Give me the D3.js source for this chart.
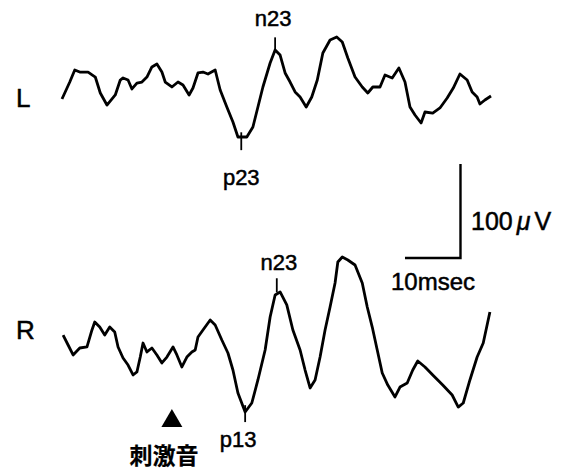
<!DOCTYPE html>
<html>
<head>
<meta charset="utf-8">
<script src="https://cdn.jsdelivr.net/npm/d3@7"></script>
<style>
  body { margin: 0; background: #fff; }
  svg { display: block; }
  text { font-family: "Liberation Sans", Arial, sans-serif; fill: #000; stroke: #000; stroke-width: 0.5px; }
</style>
</head>
<body>
<svg id="chart" width="563" height="471"></svg>
<script>
// time in msec, amplitude in µV (negative = up)
const timeL = [0, 1.4, 2.3, 3.2, 4.7, 6.0, 6.9, 8.1, 9.6, 10.5, 11.0, 11.9, 12.6, 13.5, 14.4, 15.3, 16.2, 17.1, 18.0, 18.6,
  19.8, 20.9, 21.8, 22.9, 23.6, 24.5, 25.4, 26.3, 27.6, 28.5, 29.7, 30.8, 31.7, 33.3, 34.4, 35.3, 36.2, 37.5, 38.4, 39.3,
  40.2, 41.1, 42.0, 42.9, 44.0, 45.0, 46.0, 47.0, 48.3, 49.5, 50.5, 51.5, 52.8, 54.1, 55.1, 56.0, 57.3, 58.2, 59.5, 60.7,
  61.8, 62.7, 63.6, 64.7, 65.4, 66.8, 68.1, 69.4, 70.5, 71.7, 73.0, 73.9, 74.8, 75.3, 76.2, 77.3];
const ampL = [9.6, -8.5, -21.3, -19.1, -19.1, -13.8, 3.2, 16.0, 5.3, -10.6, -12.8, -10.6, -1.1, -7.4, -8.5, -13.8, -24.5, -27.7, -19.1, -8.5,
  -3.2, -8.5, -5.3, 5.3, -2.1, -18.1, -19.1, -17.0, -21.3, 0, 18.1, 34.0, 50.0, 50.0, 39.4, 18.1, -3.2, -28.7, -42.6, -37.2,
  -18.1, -8.5, 2.1, 7.4, 18.1, 7.4, -10.6, -39.4, -53.2, -56.4, -51.1, -34.0, -13.8, -3.2, 3.2, -3.2, -3.2, -16.0, -12.8, -23.4,
  -8.5, 18.1, 26.6, 35.1, 23.4, 24.5, 19.1, 8.5, -2.1, -17.0, -10.6, 2.1, 7.4, 14.9, 10.6, 6.4];

const timeR = [0.2, 1.1, 2.0, 3.2, 4.5, 5.4, 5.9, 6.8, 7.7, 8.6, 9.5, 10.1, 11.0, 11.9, 12.8, 13.5, 14.1, 14.6, 15.3, 16.2,
  17.1, 18.0, 18.9, 20.0, 20.7, 21.6, 22.5, 23.4, 24.0, 24.5, 25.4, 26.7, 27.6, 28.8, 29.9, 30.8, 31.7, 33.0, 34.2, 35.3,
  36.6, 37.5, 38.4, 39.3, 40.5, 41.6, 42.9, 43.8, 44.7, 45.6, 46.5, 47.4, 48.3, 49.2, 49.7, 50.5, 51.5, 52.8, 54.1, 55.0,
  55.9, 56.8, 57.7, 58.7, 60.0, 60.9, 62.2, 63.2, 64.1, 65.4, 66.8, 68.6, 70.3, 71.4, 72.3, 73.5, 74.8, 75.9, 77.1];
const ampR = [-10.6, 0, 10.6, 3.2, 2.1, -16.0, -24.5, -19.1, -10.6, -19.1, -13.8, 2.1, 13.8, 21.3, 31.9, 28.7, 12.8, -2.1, 7.4, 3.2,
  10.6, 19.1, 12.8, 2.1, 10.6, 23.4, 12.8, 7.4, 5.3, -8.5, -16.0, -26.6, -21.3, -5.3, 8.5, 26.6, 51.1, 71.3, 61.7, 37.2,
  5.3, -29.8, -53.2, -56.4, -42.6, -16.0, 5.3, 26.6, 45.7, 37.2, 12.8, -16.0, -40.4, -66.0, -88.3, -93.6, -90.4, -85.1, -66.0, -40.4,
  -19.1, 5.3, 29.8, 42.6, 55.3, 44.7, 40.4, 26.6, 17.0, 23.4, 31.9, 42.6, 53.2, 66.0, 61.7, 37.2, 12.8, -2.1, -35.1];

// peak labels: [trace, label, time, tick from µV, tick to µV, label dx, label dy]
const peaks = [
  ["L", "n23", 38.4, -56, -42, -2, -11],
  ["L", "p23", 32.3, 45, 64, 0, 35],
  ["R", "n23", 38.7, -71, -56, 2, -8],
  ["R", "p13", 33.0, 64, 82, -7, 25]
];
const stimTime = 19.8;
const barTime = [61.8, 71.8];   // 10 msec
const barAmp = [-92.6, -192.6]; // 100 µV, on R trace axis

const svg = d3.select("#chart");

const x = d3.scaleLinear().domain([0, 80]).range([62, 506]);
const yL = d3.scaleLinear().domain([-100, 100]).range([90 - 94, 90 + 94]);
const yR = d3.scaleLinear().domain([-100, 100]).range([345 - 94, 345 + 94]);
const yScale = { L: yL, R: yR };

const line = (ys) => d3.line().x(d => x(d[0])).y(d => ys(d[1])).curve(d3.curveLinear);

const traces = [
  { name: "L", data: d3.zip(timeL, ampL) },
  { name: "R", data: d3.zip(timeR, ampR) }
];

svg.selectAll("path.trace")
  .data(traces)
  .join("path")
  .attr("class", "trace")
  .attr("fill", "none")
  .attr("stroke", "#000")
  .attr("stroke-width", 2.8)
  .attr("stroke-linejoin", "round")
  .attr("d", d => line(yScale[d.name])(d.data));

// trace names
svg.append("text").attr("x", 16).attr("y", 107).attr("font-size", 26).text("L");
svg.append("text").attr("x", 16).attr("y", 339).attr("font-size", 26).text("R");

// peak ticks and labels
peaks.forEach(([tr, label, t, a0, a1, dx, dy]) => {
  const ys = yScale[tr];
  svg.append("line")
    .attr("x1", x(t)).attr("x2", x(t))
    .attr("y1", ys(a0)).attr("y2", ys(a1))
    .attr("stroke", "#000").attr("stroke-width", 1.8);
  const yy = a0 < 0 ? ys(a0) + dy : ys(a1) + dy;
  svg.append("text")
    .attr("x", x(t) + dx).attr("y", yy)
    .attr("text-anchor", "middle")
    .attr("font-size", 22)
    .text(label);
});

// stimulus marker
const sx = x(stimTime);
svg.append("path")
  .attr("d", d3.symbol().type(d3.symbolTriangle).size(190)())
  .attr("transform", `translate(${sx},${421})`)
  .attr("fill", "#000");
svg.append("text")
  .attr("x", sx - 8).attr("y", 464)
  .attr("text-anchor", "middle")
  .attr("font-size", 23)
  .attr("font-weight", "bold")
  .style("stroke-width", "0.2px")
  .style("font-family", '"Noto Sans CJK JP", "Noto Sans CJK SC", sans-serif')
  .text("刺激音");

// scale bar
svg.append("path")
  .attr("fill", "none").attr("stroke", "#000").attr("stroke-width", 2.4)
  .attr("d", `M${x(barTime[0])},${yR(barAmp[0])}H${x(barTime[1])}V${yR(barAmp[1])}`);
const uv = svg.append("text").attr("x", 471).attr("y", 230).attr("font-size", 25);
uv.append("tspan").text("100");
uv.append("tspan").attr("dx", 4).attr("font-style", "italic").text("μ");
uv.append("tspan").attr("dx", 4).text("V");
svg.append("text").attr("x", 391).attr("y", 290).attr("font-size", 24).text("10msec");
</script>
</body>
</html>
